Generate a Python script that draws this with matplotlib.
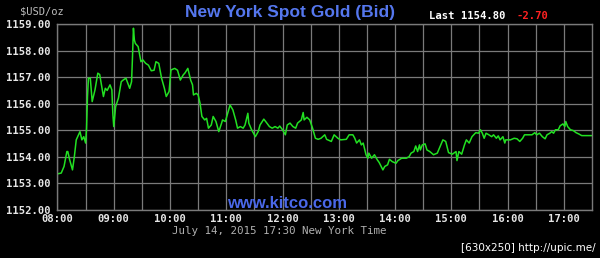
import matplotlib
matplotlib.use('Agg')
import matplotlib.pyplot as plt

# minutes after 08:00 and bid price
minutes = [0, 4, 7, 10, 11, 13, 16, 18, 20, 24, 26, 28, 30, 31, 32, 33, 35, 37, 40, 43,
           45, 49, 51, 53, 56, 58, 59, 60, 62, 65, 68, 70, 73, 75, 77, 79, 80, 81, 82, 83,
           86, 89, 91, 94, 97, 100, 103, 105, 108, 111, 114, 116, 119, 121, 125, 128, 131, 134, 136, 139,
           142, 144, 145, 148, 150, 152, 154, 157, 159, 161, 164, 166, 169, 172, 175, 176, 179, 182, 184, 187,
           190, 192, 195, 198, 200, 203, 204, 207, 209, 211, 214, 216, 220, 222, 226, 229, 232, 235, 237, 240,
           243, 245, 248, 251, 254, 256, 260, 262, 263, 266, 269, 272, 275, 278, 281, 285, 287, 292, 295, 299,
           302, 308, 311, 315, 317, 319, 322, 324, 326, 329, 331, 332, 335, 338, 341, 343, 347, 349, 352, 354,
           357, 361, 363, 367, 372, 375, 377, 380, 382, 384, 386, 387, 389, 392, 394, 397, 401, 405, 408, 411,
           414, 417, 421, 425, 426, 428, 431, 434, 436, 439, 442, 446, 449, 451, 453, 455, 457, 460, 463, 465,
           468, 470, 472, 475, 477, 478, 483, 487, 490, 493, 496, 498, 503, 506, 509, 511, 514, 517, 520, 522,
           525, 527, 529, 531, 534, 536, 539, 541, 542, 544, 547, 550, 553, 556, 559, 570]
price = [1153.36, 1153.39, 1153.64, 1154.20, 1154.20, 1153.89, 1153.51, 1154.01, 1154.64, 1154.95,
         1154.64, 1154.76, 1154.52, 1155.08, 1156.27, 1156.96, 1156.96, 1156.08, 1156.52, 1157.15,
         1157.10, 1156.27, 1156.58, 1156.50, 1156.71, 1156.52, 1155.64, 1155.14, 1155.89, 1156.21,
         1156.83, 1156.89, 1156.96, 1156.77, 1156.58, 1156.83, 1157.77, 1158.84, 1158.40, 1158.27,
         1158.15, 1157.58, 1157.65, 1157.52, 1157.45, 1157.24, 1157.26, 1157.58, 1157.52, 1156.96,
         1156.58, 1156.27, 1156.46, 1157.27, 1157.33, 1157.26, 1156.89, 1157.08, 1157.16, 1157.33,
         1156.89, 1156.71, 1156.33, 1156.39, 1156.33, 1156.02, 1155.52, 1155.39, 1155.45, 1155.08,
         1155.20, 1155.52, 1155.33, 1154.95, 1155.27, 1155.39, 1155.33, 1155.70, 1155.95, 1155.77,
         1155.39, 1155.08, 1155.14, 1155.08, 1155.20, 1155.64, 1155.27, 1155.02, 1154.89, 1154.76,
         1154.95, 1155.20, 1155.42, 1155.33, 1155.14, 1155.08, 1155.14, 1155.08, 1155.16, 1155.02,
         1154.83, 1155.20, 1155.27, 1155.14, 1155.08, 1155.27, 1155.39, 1155.67, 1155.39, 1155.49,
         1155.39, 1155.08, 1154.70, 1154.66, 1154.70, 1154.83, 1154.66, 1154.58, 1154.83, 1154.70,
         1154.64, 1154.66, 1154.83, 1154.83, 1154.70, 1154.52, 1154.64, 1154.45, 1154.52, 1154.08,
         1153.95, 1154.14, 1153.95, 1154.08, 1153.89, 1153.79, 1153.51, 1153.64, 1153.70, 1153.91,
         1153.82, 1153.76, 1153.86, 1153.95, 1153.95, 1154.01, 1154.14, 1154.20, 1154.41, 1154.20,
         1154.45, 1154.26, 1154.45, 1154.49, 1154.26, 1154.20, 1154.08, 1154.14, 1154.39, 1154.64,
         1154.58, 1154.16, 1154.10, 1154.20, 1153.86, 1154.20, 1154.10, 1154.45, 1154.64, 1154.52,
         1154.76, 1154.91, 1154.89, 1155.02, 1154.89, 1154.70, 1154.89, 1154.83, 1154.76, 1154.83,
         1154.70, 1154.79, 1154.64, 1154.76, 1154.52, 1154.64, 1154.64, 1154.70, 1154.68, 1154.58,
         1154.70, 1154.83, 1154.83, 1154.83, 1154.91, 1154.83, 1154.89, 1154.76, 1154.68, 1154.83,
         1154.89, 1154.95, 1154.89, 1155.02, 1155.02, 1155.17, 1155.24, 1155.14, 1155.33, 1155.14,
         1155.02, 1154.99, 1154.91, 1154.86, 1154.80, 1154.80]

hour_labels = ['08:00', '09:00', '10:00', '11:00', '12:00', '13:00', '14:00', '15:00', '16:00', '17:00']
y_ticks = [1152, 1153, 1154, 1155, 1156, 1157, 1158, 1159]

mono = 'DejaVu Sans Mono'
grid_col = '#7a7a7a'

fig = plt.figure(figsize=(6.0, 2.58), dpi=100, facecolor='black')
ax = fig.add_axes([0.0958, 0.186, 0.8909, 0.721], facecolor='black')

ax.plot(minutes, price, color='#22e022', lw=1.1)

ax.set_xlim(0, 570)
ax.set_ylim(1152, 1159)
ax.set_xticks(range(0, 570, 60))
ax.set_xticklabels(hour_labels)
ax.set_xticks(range(30, 570, 60), minor=True)
ax.set_yticks(y_ticks)
ax.set_yticklabels(['%.2f' % v for v in y_ticks])
ax.grid(True, which='both', color=grid_col, lw=0.9)
ax.tick_params(which='both', length=0, colors='#e6e6e6')
ax.tick_params(axis='y', pad=5)
ax.tick_params(axis='x', pad=3)
for lab in ax.get_xticklabels() + ax.get_yticklabels():
    lab.set_fontfamily(mono)
    lab.set_fontweight('bold')
    lab.set_fontsize(7.6)
for s in ax.spines.values():
    s.set_color(grid_col)
    s.set_linewidth(1.0)

# header texts
fig.text(20 / 600, 1 - 11 / 258, '$USD/oz', family=mono, fontsize=7.5, color='#bdbdbd', va='center', ha='left')
fig.text(290 / 600, 1 - 12 / 258, 'New York Spot Gold (Bid)', family='Liberation Sans', fontweight='bold',
         fontsize=12.5, color='#5577ee', va='center', ha='center')
fig.text(429 / 600, 1 - 16 / 258, 'Last 1154.80', family=mono, fontweight='bold', fontsize=7.6,
         color='white', va='center', ha='left')
fig.text(517 / 600, 1 - 16 / 258, '-2.70', family=mono, fontweight='bold', fontsize=7.6,
         color='#ff2222', va='center', ha='left')

# footer texts
fig.text(227 / 600, 1 - 203 / 258, 'www.kitco.com', family='Liberation Sans', fontweight='bold',
         fontsize=12, color='#4a68e8', va='center', ha='left')
fig.text(172 / 600, 1 - 231 / 258, 'July 14, 2015 17:30 New York Time', family=mono, fontsize=7.8,
         color='#b0b0b0', va='center', ha='left')
fig.text(596 / 600, 1 - 248 / 258, '[630x250] http://upic.me/', family='DejaVu Sans', fontsize=7.5,
         color='white', va='center', ha='right')

fig.savefig('out.png', dpi=100, facecolor='black')
